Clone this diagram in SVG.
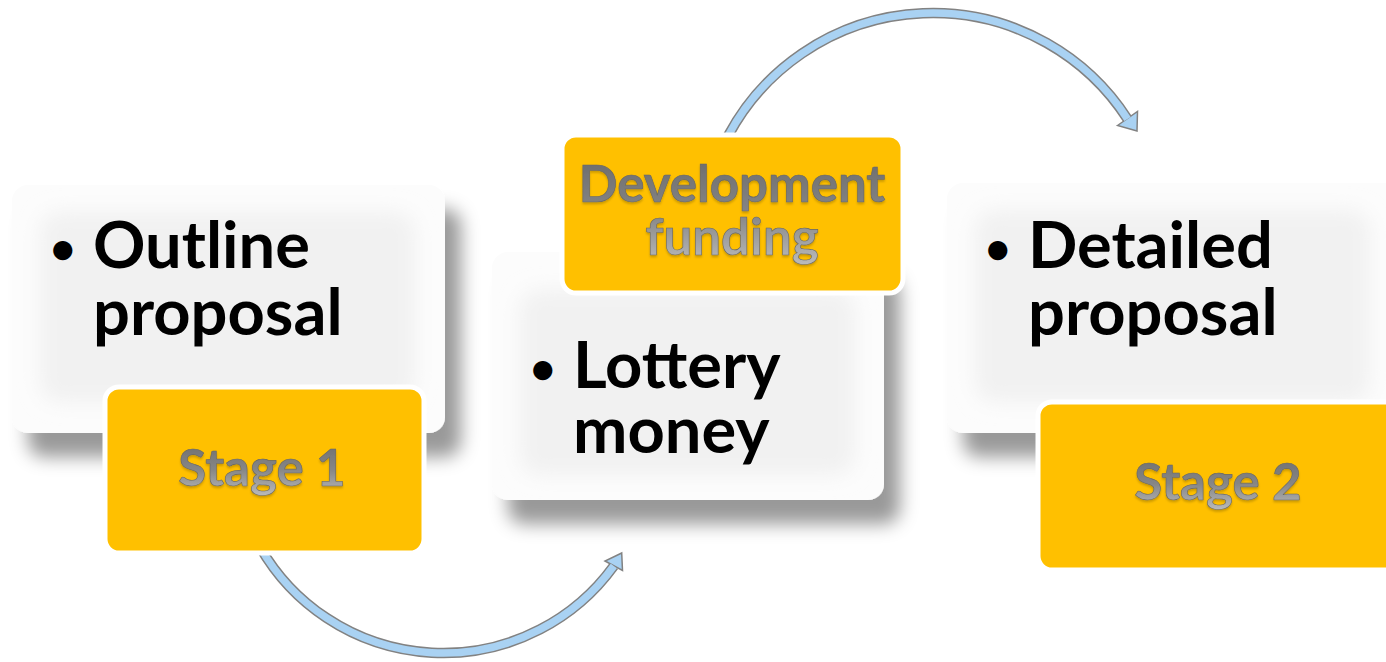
<svg xmlns="http://www.w3.org/2000/svg" width="1386" height="662" viewBox="0 0 1386 662">
  <defs>
    <filter id="panelShadow" x="-20%" y="-20%" width="150%" height="160%">
      <feGaussianBlur in="SourceAlpha" stdDeviation="9" result="b"/>
      <feOffset in="b" dx="16" dy="24" result="o"/>
      <feFlood flood-color="#000" flood-opacity="0.4"/>
      <feComposite in2="o" operator="in" result="s"/>
      <feMerge><feMergeNode in="s"/><feMergeNode in="SourceGraphic"/></feMerge>
    </filter>
    <filter id="soft" x="-20%" y="-20%" width="140%" height="140%">
      <feGaussianBlur stdDeviation="10"/>
    </filter>
    <filter id="emboss" x="-5%" y="-10%" width="110%" height="130%">
      <feOffset in="SourceAlpha" dx="0" dy="1.5" result="d"/>
      <feGaussianBlur in="d" stdDeviation="0.8" result="db"/>
      <feFlood flood-color="#000" flood-opacity="0.2"/>
      <feComposite in2="db" operator="in" result="sh"/>
      <feMerge><feMergeNode in="sh"/><feMergeNode in="SourceGraphic"/></feMerge>
    </filter>
    <linearGradient id="greyText" x1="0" y1="0" x2="0" y2="1">
      <stop offset="0" stop-color="#6a6a6a"/>
      <stop offset="0.55" stop-color="#868686"/>
      <stop offset="1" stop-color="#bcbcbc"/>
    </linearGradient>
  </defs>
  <style>
    .panel { fill: #fcfcfc; }
    .panelCore { fill: #f1f1f1; }
    .tag { fill: #FFC000; stroke: #ffffff; stroke-width: 5; }
    .body { font-family: Lato, "Open Sans", sans-serif; font-weight: 700; font-size: 65px; fill: #000; }
    .bullet { font-size: 44px; }
    .tagText { font-family: Lato, "Open Sans", sans-serif; font-weight: 700; fill: url(#greyText); stroke: #666666; stroke-width: 0.6; text-anchor: middle; }
    .arrowEdge { fill: none; stroke: #828282; stroke-width: 10.5; }
    .arrowFill { fill: none; stroke: #A9D2F3; stroke-width: 7.5; }
    .arrowHead { fill: #A9D2F3; stroke: #828282; stroke-width: 1.5; stroke-linejoin: miter; }
  </style>

  <rect width="1386" height="662" fill="#ffffff"/>

  <!-- curved connectors -->
  <g id="connectors">
    <path class="arrowEdge" d="M728,136 A232,232 0 0 1 1127.5,119"/>
    <polygon class="arrowHead" points="1117.5,125.5 1137.5,111.5 1137,131"/>
    <path class="arrowFill" d="M728,136 A232,232 0 0 1 1127.5,119"/>

    <path class="arrowEdge" d="M260,547 A211,211 0 0 0 613.8,566"/>
    <polygon class="arrowHead" points="605,561 622.5,570.5 621.7,553"/>
    <path class="arrowFill" d="M260,547 A211,211 0 0 0 613.8,566"/>
  </g>

  <!-- Outline proposal / Stage 1 -->
  <g id="node-outline">
    <g filter="url(#panelShadow)">
      <rect class="panel" x="12" y="185" width="433" height="248" rx="16"/>
    </g>
    <rect class="panelCore" x="40" y="212" width="375" height="190" rx="20" filter="url(#soft)"/>
    <text class="body"><tspan class="bullet" x="50" y="264">•</tspan><tspan x="93" y="268">Outline</tspan><tspan x="93" y="335">proposal</tspan></text>
  </g>
  <g id="node-stage1">
    <rect class="tag" x="105" y="387" width="319" height="166" rx="14"/>
    <text class="tagText" x="262" y="486" font-size="51" filter="url(#emboss)">Stage 1</text>
  </g>

  <!-- Lottery money / Development funding -->
  <g id="node-lottery">
    <g filter="url(#panelShadow)">
      <rect class="panel" x="492" y="252" width="392" height="248" rx="16"/>
    </g>
    <rect class="panelCore" x="520" y="290" width="335" height="185" rx="20" filter="url(#soft)"/>
    <text class="body"><tspan class="bullet" x="530" y="384">•</tspan><tspan x="573" y="388">Lottery</tspan><tspan x="573" y="453">money</tspan></text>
  </g>
  <g id="node-development">
    <rect class="tag" x="562" y="135" width="341" height="158" rx="14"/>
    <text class="tagText" font-size="51" filter="url(#emboss)"><tspan x="732" y="202">Development</tspan><tspan x="732" y="255">funding</tspan></text>
  </g>

  <!-- Detailed proposal / Stage 2 -->
  <g id="node-detailed">
    <g filter="url(#panelShadow)">
      <rect class="panel" x="947" y="183" width="470" height="250" rx="16"/>
    </g>
    <rect class="panelCore" x="975" y="210" width="395" height="192" rx="20" filter="url(#soft)"/>
    <text class="body"><tspan class="bullet" x="985" y="264">•</tspan><tspan x="1028" y="268">Detailed</tspan><tspan x="1028" y="335">proposal</tspan></text>
  </g>
  <g id="node-stage2">
    <rect class="tag" x="1038" y="402" width="370" height="168" rx="14"/>
    <text class="tagText" x="1218" y="500" font-size="51" filter="url(#emboss)">Stage 2</text>
  </g>
</svg>
